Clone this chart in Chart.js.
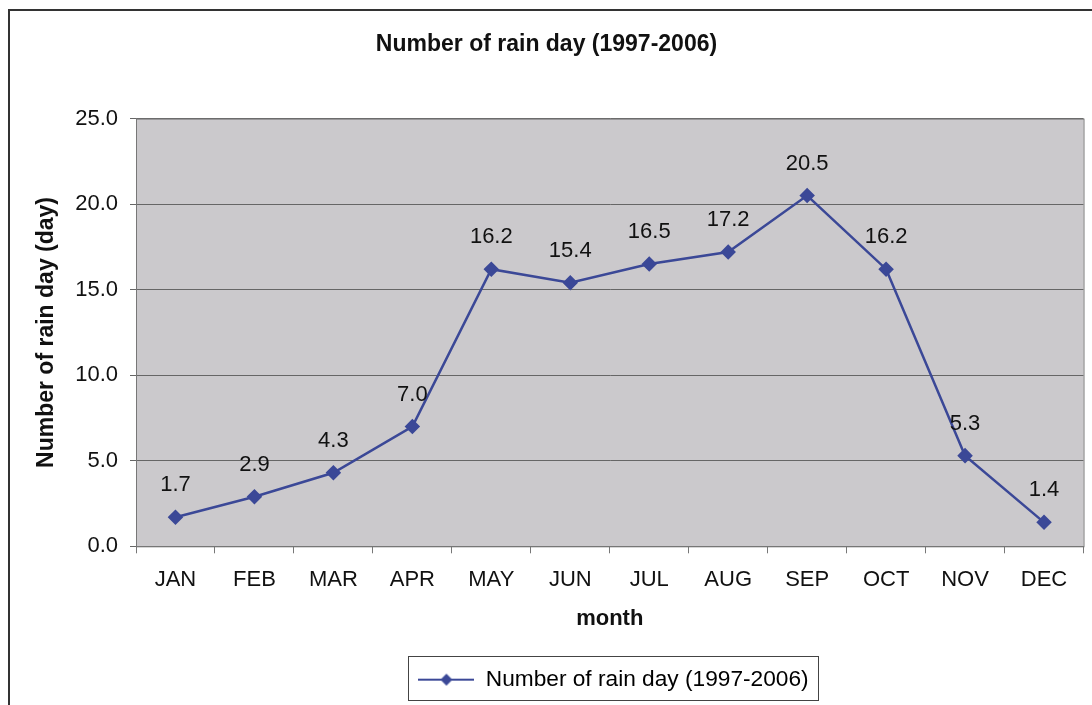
<!DOCTYPE html>
<html>
<head>
<meta charset="utf-8">
<script src="https://cdn.jsdelivr.net/npm/chart.js@4"></script>
<style>
  html, body { margin: 0; padding: 0; background: #fff; }
  #wrap { width: 1092px; height: 705px; }
</style>
</head>
<body>
<div id="wrap"><canvas id="rainChart" width="1092" height="705"></canvas></div>
<script>
const months = ['JAN', 'FEB', 'MAR', 'APR', 'MAY', 'JUN', 'JUL', 'AUG', 'SEP', 'OCT', 'NOV', 'DEC'];
const rainDays = [1.7, 2.9, 4.3, 7.0, 16.2, 15.4, 16.5, 17.2, 20.5, 16.2, 5.3, 1.4];
const yTicks = [0, 5, 10, 15, 20, 25];

const FONT = "'Liberation Sans', Arial, sans-serif";
const LINE = '#3b4897';

// legend sample: short line with a diamond in the middle
function legendIcon() {
    const c = document.createElement('canvas');
    c.width = 56; c.height = 16;
    const g = c.getContext('2d');
    g.strokeStyle = LINE; g.lineWidth = 2;
    g.beginPath(); g.moveTo(0, 8); g.lineTo(56, 8); g.stroke();
    g.fillStyle = LINE;
    g.beginPath(); g.moveTo(28, 2); g.lineTo(34, 8); g.lineTo(28, 14); g.lineTo(22, 8); g.closePath(); g.fill();
    return c;
}

const frame = {
    id: 'frame',
    afterLayout(chart) {
        // the legend sits right of centre in the original
        chart.legend.left += 67;
        chart.legend.right += 67;
    },
    beforeDraw(chart) {
        const ctx = chart.ctx, a = chart.chartArea;
        ctx.save();
        ctx.strokeStyle = '#333'; ctx.lineWidth = 2;
        ctx.strokeRect(9, 10, 1100, 720);
        ctx.fillStyle = '#cbc9cc';
        ctx.fillRect(a.left, a.top, a.right - a.left, a.bottom - a.top);
        ctx.restore();
    },
    afterDraw(chart) {
        const ctx = chart.ctx, a = chart.chartArea, l = chart.legend;
        ctx.save();
        ctx.strokeStyle = '#777'; ctx.lineWidth = 1;
        ctx.strokeRect(a.left + 0.5, a.top + 0.5, a.right - a.left, a.bottom - a.top);
        const hb = l.legendHitBoxes[0];
        if (hb) {
            ctx.strokeStyle = '#444';
            ctx.strokeRect(Math.round(hb.left - 10) + 0.5, Math.round(l.top) + 0.5, Math.round(hb.width + 20), Math.round(l.height - 1));
        }
        ctx.restore();
    }
};

const valueLabels = {
    id: 'valueLabels',
    afterDatasetsDraw(chart) {
        const ctx = chart.ctx;
        const meta = chart.getDatasetMeta(0);
        ctx.save();
        ctx.font = '22px ' + FONT;
        ctx.fillStyle = '#111';
        ctx.textAlign = 'center';
        ctx.textBaseline = 'middle';
        meta.data.forEach((pt, i) => {
            ctx.fillText(rainDays[i].toFixed(1), pt.x, pt.y - 32);
        });
        ctx.restore();
    }
};

new Chart(document.getElementById('rainChart'), {
    type: 'line',
    data: {
        labels: months,
        datasets: [{
            label: 'Number of rain day (1997-2006)',
            data: rainDays,
            borderColor: LINE,
            backgroundColor: LINE,
            borderWidth: 2.5,
            pointStyle: 'rectRot',
            pointRadius: 6,
            tension: 0,
        }],
    },
    options: {
        responsive: false,
        animation: false,
        layout: { padding: { left: 9, right: 8, top: 0, bottom: 4 } },
        plugins: {
            title: {
                display: true,
                text: 'Number of rain day (1997-2006)',
                color: '#111',
                font: { family: FONT, size: 23, weight: 'bold' },
                padding: { top: 31, bottom: 60 },
            },
            legend: {
                position: 'bottom',
                labels: {
                    color: '#111',
                    font: { family: FONT, size: 22.7 },
                    usePointStyle: true,
                    pointStyleWidth: 56,
                    padding: 12,
                    generateLabels(chart) {
                        return [{
                            text: chart.data.datasets[0].label,
                            pointStyle: legendIcon(),
                            fillStyle: LINE,
                            strokeStyle: LINE,
                            lineWidth: 0,
                            datasetIndex: 0,
                        }];
                    },
                },
            },
            tooltip: { enabled: false },
        },
        scales: {
            x: {
                offset: true,
                grid: { drawOnChartArea: false, drawTicks: true, tickLength: 7, color: '#777', offset: true },
                border: { color: '#777' },
                ticks: { color: '#111', font: { family: FONT, size: 22 }, padding: 13 },
                title: { display: true, text: 'month', color: '#111', font: { family: FONT, size: 22, weight: 'bold' }, padding: { top: 0, bottom: 24 } },
                afterFit(scale) { scale.height = 110; },
            },
            y: {
                min: 0,
                max: 25,
                afterBuildTicks(scale) { scale.ticks = yTicks.map(v => ({ value: v })); },
                grid: { color: '#666', tickLength: 6, drawTicks: true },
                border: { color: '#777' },
                ticks: {
                    color: '#111',
                    font: { family: FONT, size: 22 },
                    padding: 12,
                    callback: v => Number(v).toFixed(1),
                },
                title: { display: true, text: 'Number of rain day (day)', color: '#111', font: { family: FONT, size: 23, weight: 'bold' }, padding: { top: 24, bottom: 0 } },
                afterFit(scale) { scale.width = 127; },
            },
        },
    },
    plugins: [frame, valueLabels],
});
</script>
</body>
</html>
